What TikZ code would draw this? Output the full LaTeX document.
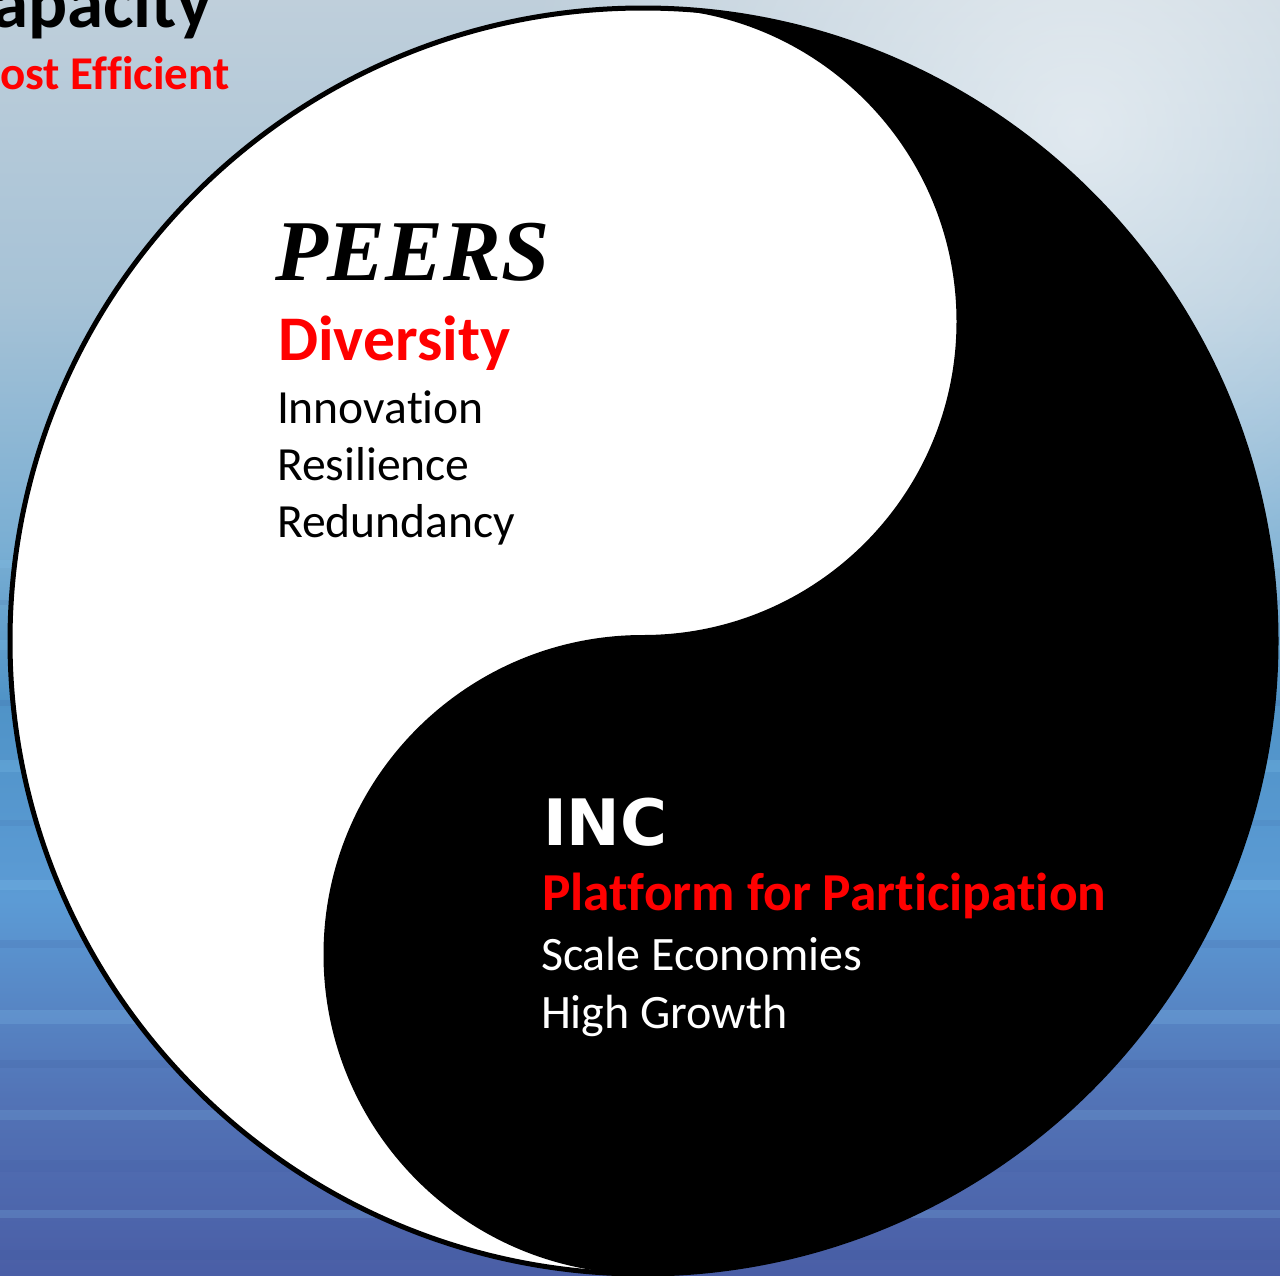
\documentclass[tikz,border=0pt]{standalone}
\usepackage{fontspec}
\setmainfont{Carlito}[Ligatures=NoCommon]
\newfontfamily\peersfont{Liberation Serif}
\newfontfamily\incfont{DejaVu Sans}
\usetikzlibrary{fadings}
\definecolor{pptred}{RGB}{255,0,0}
\definecolor{sa}{HTML}{BFCFDB}
\definecolor{sb}{HTML}{A6C2D6}
\definecolor{sc}{HTML}{79AED3}
\definecolor{sd}{HTML}{4F93C7}
\definecolor{se}{HTML}{5C9BD5}
\definecolor{sf}{HTML}{5273B6}
\definecolor{sg}{HTML}{4A5EA6}
\definecolor{streaklight}{HTML}{8FD0F5}
\definecolor{streakdark}{HTML}{3C5A9C}
\pgfdeclareverticalshading{sea}{100bp}{color(0bp)=(sg); color(25bp)=(sg); color(31.86bp)=(sf); color(39.71bp)=(se); color(47.55bp)=(sd); color(53.43bp)=(sc); color(63.24bp)=(sb); color(75bp)=(sa); color(100bp)=(sa)}
\tikzfading[name=softglow, inner color=transparent!0, outer color=transparent!100]
\begin{document}
\begin{tikzpicture}[x=0.5pt,y=-0.5pt,
  txt/.style={anchor=base west, inner sep=0pt, outer sep=0pt},
  bodyblack/.style={txt, font=\fontsize{23.8}{28}\selectfont, text=black},
  bodywhite/.style={txt, font=\fontsize{24}{28}\selectfont, text=white},
  redhead/.style={txt, font=\bfseries\fontsize{#1}{#1}\selectfont, text=pptred},
]
\useasboundingbox (0,0) rectangle (1280,1275);
\begin{scope}
\clip (0,0) rectangle (1280,1275);
% sea background
\shade[shading=sea] (0,0) rectangle (1280,1275);
\fill[white, opacity=0.6, path fading=softglow] (1080,130) circle (560);
\foreach \yy/\hh/\cc/\oo in {560/8/streaklight/.15, 600/5/streakdark/.12, 640/10/streaklight/.18, 700/6/streakdark/.15,
  760/12/streaklight/.18, 820/6/streakdark/.12, 880/10/streaklight/.18, 940/8/streakdark/.15, 1010/14/streaklight/.18,
  1060/8/streakdark/.18, 1110/10/streaklight/.15, 1160/12/streakdark/.15, 1210/8/streaklight/.18, 1250/10/streakdark/.15}
  {\fill[\cc, opacity=\oo] (0,\yy) rectangle (1280,\yy+\hh);}
% yin-yang
\fill[white] (643,641) circle (633);
\fill[black] (643,8) arc[start angle=-90, end angle=90, radius=633]
  arc[start angle=90, end angle=270, radius=319.5]
  arc[start angle=90, end angle=-90, radius=313.5] -- cycle;
\draw[black, line width=2.5pt] (643,641) circle (633);
% cropped heading texts
\node[txt, font=\bfseries\fontsize{36.5}{36}\selectfont, text=black] (cap) at (-8,27) {apacity};
\node[anchor=base east, inner sep=0pt, font=\bfseries\fontsize{23.5}{24}\selectfont, text=pptred] (eff) at (230,89) {ost Efficient};
% PEERS block
\node[txt, font=\peersfont\bfseries\itshape\fontsize{43.3}{43}\selectfont, text=black] (peers) at (275,280) {PEERS};
\node[redhead=31.8] (div) at (278,360) {Diversity};
\node[bodyblack] (inno) at (277,423) {Innovation};
\node[bodyblack] (resi) at (277,480) {Resilience};
\node[bodyblack] (redu) at (277,537) {Redundancy};
% INC block
\node[txt, font=\incfont\bfseries\fontsize{32}{32}\selectfont, text=white] (inc) at (543,845) {INC};
\node[redhead=26.7] (plat) at (542,910) {Platform for Participation};
\node[bodywhite] (scale) at (541,970) {Scale Economies};
\node[bodywhite] (growth) at (541,1028) {High Growth};
\end{scope}
\end{tikzpicture}
\end{document}
